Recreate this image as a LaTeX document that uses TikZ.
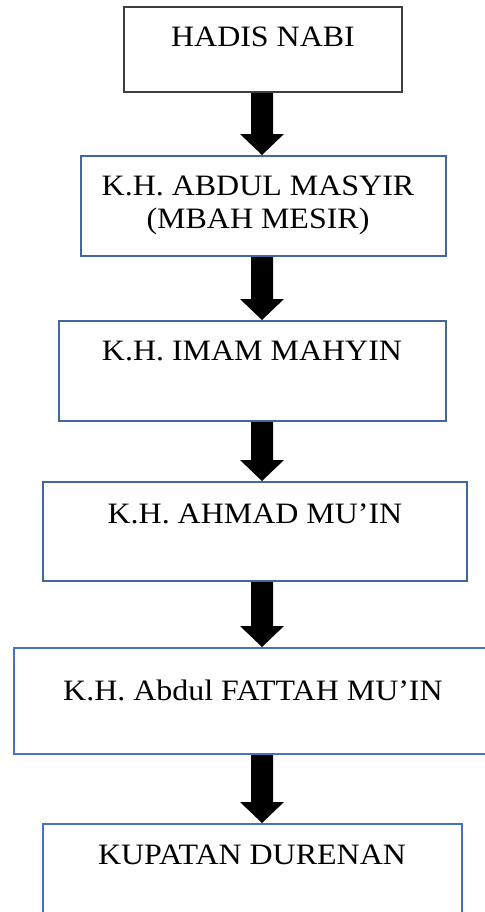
\documentclass[tikz,border=0pt]{standalone}
\usepackage{fontspec}
\setmainfont[FakeStretch=1.08]{Liberation Serif}
\usetikzlibrary{calc,fit}
\definecolor{graybox}{HTML}{3F3F3F}
\definecolor{darkblue}{HTML}{41679F}
\definecolor{lightblue}{HTML}{4472C4}
\tikzset{
  box/.style={draw=#1, line width=1pt, inner sep=0pt, fill=none},
  lbl/.style={inner sep=0pt, font=\fontsize{14.8}{16.5}\selectfont, align=center},
  fat/.style={fill=black},
}
\newcommand\fatarrow[2]{%
  \fill[fat] ($(ax |- #1.south)+(-11,0)$) -- ($(ax |- #2.north)+(-11,-21)$)
    -- ($(ax |- #2.north)+(-22,-21)$) -- (ax |- #2.north)
    -- ($(ax |- #2.north)+(22,-21)$) -- ($(ax |- #2.north)+(11,-21)$)
    -- ($(ax |- #1.south)+(11,0)$) -- cycle;}
\begin{document}
\begin{tikzpicture}[x=0.5pt,y=-0.5pt]
\useasboundingbox (0,0) rectangle (485,912);
\clip (0,0) rectangle (485,912);
\fill[white] (0,0) rectangle (485,912);
\coordinate (ax) at (262,0);
\node[box=graybox, fit={(124,7) (402,92)}] (b1) {};
\node[box=darkblue, fit={(81,156) (446,256)}] (b2) {};
\node[box=darkblue, fit={(59,321) (446,421)}] (b3) {};
\node[box=darkblue, fit={(43,482) (467,581)}] (b4) {};
\node[box=lightblue, fit={(14,648) (500,754)}] (b5) {};
\node[box=lightblue, fit={(43,824) (462,930)}] (b6) {};
\node[lbl, anchor=base] (t1) at (263,46) {HADIS NABI};
\node[lbl, anchor=base] (t2a) at (258,195) {K.H. ABDUL MASYIR};
\node[lbl, anchor=base] (t2b) at (258,228) {(MBAH MESIR)};
\node[lbl, anchor=base] (t3) at (252,360) {K.H. IMAM MAHYIN};
\node[lbl, anchor=base] (t4) at (255,523) {K.H. AHMAD MU’IN};
\node[lbl, anchor=base] (t5) at (253,700) {K.H. Abdul FATTAH MU’IN};
\node[lbl, anchor=base] (t6) at (252,864) {KUPATAN DURENAN};
\fatarrow{b1}{b2}
\fatarrow{b2}{b3}
\fatarrow{b3}{b4}
\fatarrow{b4}{b5}
\fatarrow{b5}{b6}
\end{tikzpicture}
\end{document}
